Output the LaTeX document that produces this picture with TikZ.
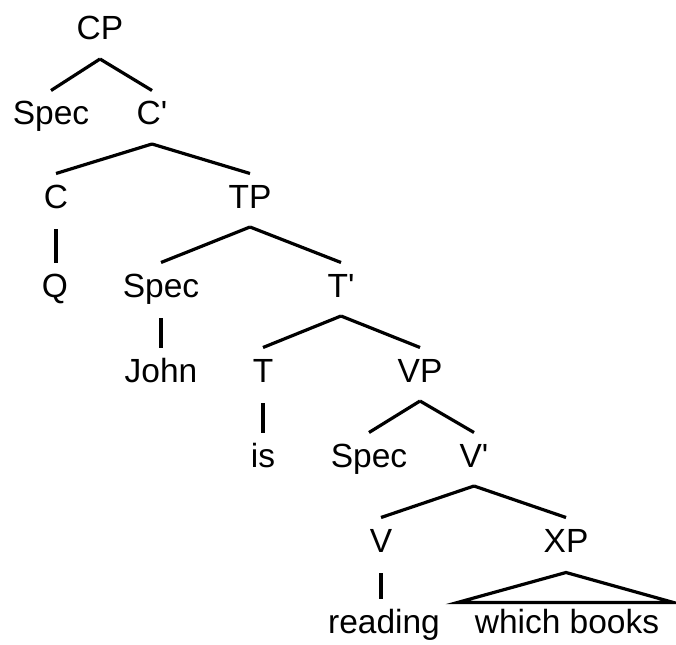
\documentclass[tikz,border=0pt]{standalone}
\usepackage{fontspec}
\setmainfont{Liberation Sans}[Ligatures=TeXOff]
\begin{document}
\begin{tikzpicture}[x=1pt, y=-1pt,
  lbl/.style={anchor=base, inner sep=0pt, font=\fontsize{33.5}{40}\selectfont},
  branch/.style={line width=3.2pt, black}]
\useasboundingbox (0,0) rectangle (676,644);

% labels, placed at (centre, baseline)
\node[lbl] (cp)    at (100,40)  {CP};
\node[lbl] (spec1) at (51,125)  {Spec};
\node[lbl] (cbar)  at (152,125) {C'};
\node[lbl] (c)     at (56,208)  {C};
\node[lbl] (tp)    at (250,208) {TP};
\node[lbl] (q)     at (55,297)  {Q};
\node[lbl] (spec2) at (161,297) {Spec};
\node[lbl] (tbar)  at (341,297) {T'};
\node[lbl] (john)  at (161,382) {John};
\node[lbl] (t)     at (263,382) {T};
\node[lbl] (vp)    at (420,382) {VP};
\node[lbl] (is)    at (263,467) {is};
\node[lbl] (spec3) at (369,467) {Spec};
\node[lbl] (vbar)  at (474,467) {V'};
\node[lbl] (v)     at (381,552) {V};
\node[lbl] (xp)    at (566,552) {XP};
\node[lbl] (read)  at (384,633) {reading};
\node[lbl] (wb)    at (567,633) {which books};

% branch from a parent (below its baseline) to a child (above its capitals)
\newcommand{\branchto}[2]{%
  \draw[branch] ([yshift=-19pt]#1.base) -- ([yshift=34.5pt]#2.base);}
% straight vertical stem from a head to its word
\newcommand{\stemto}[2]{%
  \path (#1.base |- #2.base) coordinate (stem end);
  \draw[branch] ([yshift=-21pt]#1.base) -- ([yshift=34.5pt]stem end);}

\branchto{cp}{spec1}
\branchto{cp}{cbar}
\branchto{cbar}{c}
\branchto{cbar}{tp}
\stemto{c}{q}
\branchto{tp}{spec2}
\branchto{tp}{tbar}
\stemto{spec2}{john}
\branchto{tbar}{t}
\branchto{tbar}{vp}
\stemto{t}{is}
\branchto{vp}{spec3}
\branchto{vp}{vbar}
\branchto{vbar}{v}
\branchto{vbar}{xp}
\stemto{v}{read}

% triangle over the unanalysed phrase
\coordinate (tri top) at ([yshift=-20.5pt]xp.base);
\coordinate (tri left) at ([xshift=-109.5pt, yshift=30.5pt]wb.base);
\coordinate (tri right) at ([xshift=106.5pt, yshift=30.5pt]wb.base);
\draw[branch, line join=miter] (tri left) -- (tri top) -- (tri right) -- cycle;
\end{tikzpicture}
\end{document}
